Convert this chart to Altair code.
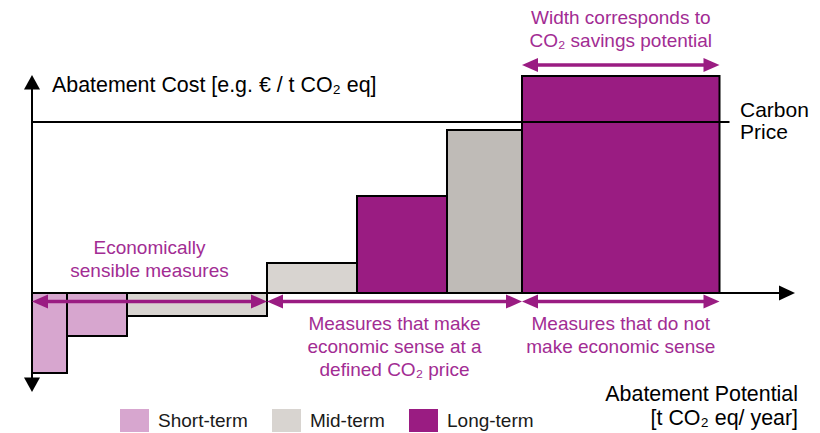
import altair as alt
import pandas as pd
import numpy as np

# ---- data (schematic MAC curve) ----
TERMS = ["Short-term", "Short-term", "Mid-term", "Mid-term", "Long-term", "Mid-term", "Long-term"]
SHADES = ["Short-term", "Short-term", "Mid-term", "Mid-term", "Long-term", "Mid-term (high cost)", "Long-term"]
POTENTIAL = [0.7, 1.2, 2.8, 1.8, 1.8, 1.5, 3.95]          # bar widths
COST = [-40, -21.5, -11.5, 15, 48.5, 81.5, 108.5]           # bar heights
CARBON_PRICE = 85.5
CARBON_LINE_END = 13.95
LEGEND_LABELS = ["Short-term", "Mid-term", "Long-term"]
SHADE_DOMAIN = ["Short-term", "Mid-term", "Long-term", "Mid-term (high cost)"]
SHADE_COLORS = ["#D7A6CF", "#D8D4D0", "#9A1C82", "#BFBBB7"]

X_AXIS_END = 15.26
Y_AXIS_TOP = 109
Y_AXIS_BOTTOM = -49.5

PURPLE = "#9A1C82"
PURPLE_TEXT = "#A22C93"
FONT = "Liberation Sans"

end = np.cumsum(POTENTIAL)
start = end - np.array(POTENTIAL)
bars_df = pd.DataFrame({"term": TERMS, "shade": SHADES, "start": start, "end": end,
                        "base": 0.0, "cost": COST})

# annotation spans derived from the bars
spans = [(0.0, end[2]), (end[2], end[5]), (end[5], end[6])]
BOTTOM_ARROW_Y = -4.25
TOP_ARROW_Y = 114
arrows_df = pd.DataFrame({
    "start": [s for s, e in spans] + [start[6]],
    "end": [e for s, e in spans] + [end[6]],
    "y": [BOTTOM_ARROW_Y] * 3 + [TOP_ARROW_Y],
})

purple_text_df = pd.DataFrame({
    "x": [(start[6] + end[6]) / 2, (spans[0][0] + spans[0][1]) / 2,
          (spans[1][0] + spans[1][1]) / 2, (spans[2][0] + spans[2][1]) / 2],
    "y": [134.5, 19.5, -18.5, -18.5],
    "label": ["Width corresponds to\nCO₂ savings potential",
              "Economically\nsensible measures",
              "Measures that make\neconomic sense at a\ndefined CO₂ price",
              "Measures that do not\nmake economic sense"],
})

xs = alt.Scale(domain=[-0.48, 15.6], nice=False, zero=False)
ys = alt.Scale(domain=[-70, 142.5], nice=False, zero=False)


def X(f):
    return alt.X(f, type="quantitative", scale=xs, axis=None)


def Y(f):
    return alt.Y(f, type="quantitative", scale=ys, axis=None)


bars = alt.Chart(bars_df).mark_rect(stroke="black", strokeWidth=2).encode(
    x=X("start"), x2="end", y=Y("base"), y2="cost",
    fill=alt.Fill("shade:N",
                  scale=alt.Scale(domain=SHADE_DOMAIN, range=SHADE_COLORS),
                  legend=alt.Legend(values=LEGEND_LABELS, title=None, orient="none",
                                    legendX=115, legendY=401, direction="horizontal",
                                    symbolType="M-1.26,-1L1.26,-1L1.26,1L-1.26,1Z",
                                    symbolSize=529, symbolStrokeWidth=0,
                                    labelFontSize=19, labelFont=FONT, labelColor="#1a1a1a",
                                    labelOffset=12, columnPadding=24, padding=0)),
)

carbon_df = pd.DataFrame({"x": [0.0], "x2": [CARBON_LINE_END], "y": [CARBON_PRICE]})
carbon = alt.Chart(carbon_df).mark_rule(color="black", strokeWidth=2).encode(
    x=X("x"), x2="x2", y=Y("y"))

xaxis_df = pd.DataFrame({"x": [0.0], "x2": [X_AXIS_END], "y": [0.0]})
xaxis = alt.Chart(xaxis_df).mark_rule(color="black", strokeWidth=2, x2Offset=-8).encode(
    x=X("x"), x2="x2", y=Y("y"))
xhead = alt.Chart(xaxis_df).mark_point(shape="M0,0L-2,-0.94L-2,0.94Z", size=256, filled=True,
                                       color="black", opacity=1).encode(x=X("x2"), y=Y("y"))

yaxis_df = pd.DataFrame({"x": [0.0], "y": [Y_AXIS_TOP], "y2": [Y_AXIS_BOTTOM]})
yaxis = alt.Chart(yaxis_df).mark_rule(color="black", strokeWidth=2, yOffset=8, y2Offset=-8).encode(
    x=X("x"), y=Y("y"), y2="y2")
yhead_up = alt.Chart(yaxis_df).mark_point(shape="M0,0L-1,1.8L1,1.8Z", size=256, filled=True,
                                          color="black", opacity=1).encode(x=X("x"), y=Y("y"))
yhead_down = alt.Chart(yaxis_df).mark_point(shape="M0,0L-1,-1.8L1,-1.8Z", size=256, filled=True,
                                            color="black", opacity=1).encode(x=X("x"), y=Y("y2"))

arrow_lines = alt.Chart(arrows_df).mark_rule(color=PURPLE, strokeWidth=3.5, xOffset=10, x2Offset=-10).encode(
    x=X("start"), x2="end", y=Y("y"))
arrow_left = alt.Chart(arrows_df).mark_point(shape="M0,0L2,-0.88L2,0.88Z", size=256, filled=True,
                                             color=PURPLE, opacity=1).encode(x=X("start"), y=Y("y"))
arrow_right = alt.Chart(arrows_df).mark_point(shape="M0,0L-2,-0.88L-2,0.88Z", size=256, filled=True,
                                              color=PURPLE, opacity=1).encode(x=X("end"), y=Y("y"))

purple_text = alt.Chart(purple_text_df).mark_text(
    align="center", baseline="alphabetic", lineBreak="\n", lineHeight=23,
    fontSize=19, font=FONT, color=PURPLE_TEXT).encode(x=X("x"), y=Y("y"), text="label:N")

ycost_df = pd.DataFrame({"x": [0.4], "y": [100.5], "label": ["Abatement Cost [e.g. € / t CO₂ eq]"]})
ytitle = alt.Chart(ycost_df).mark_text(
    align="left", baseline="alphabetic", fontSize=21.4, font=FONT, color="black").encode(
    x=X("x"), y=Y("y"), text="label:N")

carbon_lbl_df = pd.DataFrame({"x": [14.16], "y": [88.0], "label": ["Carbon\nPrice"]})
carbon_lbl = alt.Chart(carbon_lbl_df).mark_text(
    align="left", baseline="alphabetic", lineBreak="\n", lineHeight=22,
    fontSize=21, font=FONT, color="black").encode(x=X("x"), y=Y("y"), text="label:N")

xtitle_df = pd.DataFrame({"x": [15.32], "y": [-54.0], "label": ["Abatement Potential\n[t CO₂ eq/ year]"]})
xtitle = alt.Chart(xtitle_df).mark_text(
    align="right", baseline="alphabetic", lineBreak="\n", lineHeight=24,
    fontSize=21.4, font=FONT, color="black").encode(x=X("x"), y=Y("y"), text="label:N")

chart = alt.layer(
    bars, carbon, xaxis, xhead, yaxis, yhead_up, yhead_down,
    arrow_lines, arrow_left, arrow_right, purple_text, ytitle, carbon_lbl, xtitle,
).properties(
    width=804, height=425, padding=0,
    autosize=alt.AutoSizeParams(type="none"),
).configure_view(stroke=None)

chart.save("out.html", embed_options={"renderer": "svg", "actions": False})
